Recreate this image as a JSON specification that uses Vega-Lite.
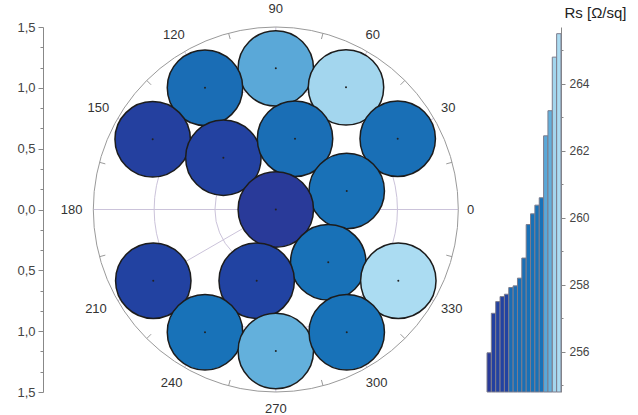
{
  "$schema": "https://vega.github.io/schema/vega-lite/v6.json",
  "autosize": "none",
  "width": 518,
  "height": 365,
  "padding": {"left": 43, "top": 27, "right": 77, "bottom": 23},
  "background": "white",
  "config": {"view": {"stroke": null}, "font": "Liberation Sans"},
  "datasets": {
    "gridInner": [{"x": 0, "y": 0, "r": 0.5}, {"x": 0, "y": 0, "r": 1.0}],
    "gridOuter": [{"x": 0, "y": 0, "r": 1.5}],
    "spokes": [
      {"x": -1.5, "y": 0, "x2": 1.5, "y2": 0},
      {"x": -1.299, "y": -0.75, "x2": 1.299, "y2": 0.75},
      {"x": -0.75, "y": -1.299, "x2": 0.75, "y2": 1.299},
      {"x": 0, "y": -1.5, "x2": 0, "y2": 1.5},
      {"x": 0.75, "y": -1.299, "x2": -0.75, "y2": 1.299},
      {"x": 1.299, "y": -0.75, "x2": -1.299, "y2": 0.75}
    ],
    "rimTicks": [
      {"x": 1.449, "y": 0.388, "x2": 1.401, "y2": 0.375},
      {"x": 1.061, "y": 1.061, "x2": 1.025, "y2": 1.025},
      {"x": 0.388, "y": 1.449, "x2": 0.375, "y2": 1.401},
      {"x": -0.388, "y": 1.449, "x2": -0.375, "y2": 1.401},
      {"x": -1.061, "y": 1.061, "x2": -1.025, "y2": 1.025},
      {"x": -1.449, "y": 0.388, "x2": -1.401, "y2": 0.375},
      {"x": -1.449, "y": -0.388, "x2": -1.401, "y2": -0.375},
      {"x": -1.061, "y": -1.061, "x2": -1.025, "y2": -1.025},
      {"x": -0.388, "y": -1.449, "x2": -0.375, "y2": -1.401},
      {"x": 0.388, "y": -1.449, "x2": 0.375, "y2": -1.401},
      {"x": 1.061, "y": -1.061, "x2": 1.025, "y2": -1.025},
      {"x": 1.449, "y": -0.388, "x2": 1.401, "y2": -0.375}
    ],
    "angles": [
      {"x": 1.602, "y": 0, "t": "0"},
      {"x": 1.418, "y": 0.832, "t": "30"},
      {"x": 0.796, "y": 1.434, "t": "60"},
      {"x": 0, "y": 1.652, "t": "90"},
      {"x": -0.837, "y": 1.434, "t": "120"},
      {"x": -1.459, "y": 0.832, "t": "150"},
      {"x": -1.678, "y": 0, "t": "180"},
      {"x": -1.478, "y": -0.818, "t": "210"},
      {"x": -0.856, "y": -1.428, "t": "240"},
      {"x": 0, "y": -1.642, "t": "270"},
      {"x": 0.829, "y": -1.428, "t": "300"},
      {"x": 1.446, "y": -0.818, "t": "330"}
    ],
    "sites": [
      {"x": 0, "y": 1.16, "r": 0.31, "rs": 262.45},
      {"x": -0.582, "y": 1.001, "r": 0.31, "rs": 257.97},
      {"x": 0.577, "y": 1.004, "r": 0.31, "rs": 264.8},
      {"x": -1.012, "y": 0.577, "r": 0.31, "rs": 257.15},
      {"x": -0.431, "y": 0.426, "r": 0.31, "rs": 257.5},
      {"x": 0.158, "y": 0.582, "r": 0.31, "rs": 258.2},
      {"x": 1.002, "y": 0.582, "r": 0.31, "rs": 258.8},
      {"x": 0.583, "y": 0.152, "r": 0.31, "rs": 259.8},
      {"x": 0, "y": 0, "r": 0.31, "rs": 255.97},
      {"x": 0.431, "y": -0.434, "r": 0.31, "rs": 260.12},
      {"x": 1.007, "y": -0.585, "r": 0.31, "rs": 265.5},
      {"x": -1.007, "y": -0.585, "r": 0.31, "rs": 257.65},
      {"x": -0.157, "y": -0.585, "r": 0.31, "rs": 257.72},
      {"x": -0.582, "y": -1.009, "r": 0.31, "rs": 260.38},
      {"x": 0, "y": -1.163, "r": 0.31, "rs": 263.2},
      {"x": 0.583, "y": -1.009, "r": 0.31, "rs": 260.6}
    ],
    "bars": [
      {"i": 1, "rs": 255.97}, {"i": 2, "rs": 257.15}, {"i": 3, "rs": 257.5},
      {"i": 4, "rs": 257.65}, {"i": 5, "rs": 257.72}, {"i": 6, "rs": 257.92},
      {"i": 7, "rs": 257.97}, {"i": 8, "rs": 258.2}, {"i": 9, "rs": 258.8},
      {"i": 10, "rs": 259.8}, {"i": 11, "rs": 260.12}, {"i": 12, "rs": 260.38},
      {"i": 13, "rs": 260.6}, {"i": 14, "rs": 262.45}, {"i": 15, "rs": 263.2},
      {"i": 16, "rs": 264.8}, {"i": 17, "rs": 265.5}
    ]
  },
  "layer": [
    {
      "encoding": {
        "x": {"field": "x", "type": "quantitative", "scale": {"domain": [-1.9134, 2.3441], "nice": false, "zero": false}, "axis": null},
        "y": {"field": "y", "type": "quantitative", "scale": {"domain": [-1.5, 1.5], "nice": false, "zero": false},
          "axis": {
            "values": [-1.5, -1.3333, -1.1667, -1, -0.8333, -0.6667, -0.5, -0.3333, -0.1667, 0, 0.1667, 0.3333, 0.5, 0.6667, 0.8333, 1, 1.1667, 1.3333, 1.5],
            "labelExpr": "abs(datum.value*2 - round(datum.value*2)) < 0.01 ? replace(format(abs(datum.value),'.1f'),'.',',') : ''",
            "tickSize": {"condition": {"test": "abs(datum.value*2 - round(datum.value*2)) < 0.01", "value": 5}, "value": 3},
            "labelOverlap": false, "labelBound": false,
            "grid": false, "title": null, "labelFontSize": 13, "labelColor": "#444", "domainColor": "#888", "tickColor": "#888", "labelPadding": 3}}
      },
      "layer": [
        {
          "data": {"name": "gridInner"},
          "mark": {"type": "point", "filled": false, "color": "#cbc3da", "strokeWidth": 1, "opacity": 1},
          "encoding": {"size": {"field": "r", "type": "quantitative", "scale": {"type": "pow", "exponent": 2, "domain": [0, 1.5], "range": [0, 133225]}, "legend": null}}
        },
        {
          "data": {"name": "spokes"},
          "mark": {"type": "rule", "color": "#cbc3da", "strokeWidth": 1},
          "encoding": {"x2": {"field": "x2"}, "y2": {"field": "y2"}}
        },
        {
          "data": {"name": "gridOuter"},
          "mark": {"type": "point", "filled": false, "color": "#9a9a9a", "strokeWidth": 1, "opacity": 1},
          "encoding": {"size": {"field": "r", "type": "quantitative", "scale": {"type": "pow", "exponent": 2, "domain": [0, 1.5], "range": [0, 133225]}, "legend": null}}
        },
        {
          "data": {"name": "rimTicks"},
          "mark": {"type": "rule", "color": "#9a9a9a", "strokeWidth": 1},
          "encoding": {"x2": {"field": "x2"}, "y2": {"field": "y2"}}
        },
        {
          "data": {"name": "angles"},
          "mark": {"type": "text", "fontSize": 13, "color": "#333", "align": "center", "baseline": "middle"},
          "encoding": {"text": {"field": "t"}}
        },
        {
          "data": {"name": "sites"},
          "mark": {"type": "point", "filled": true, "stroke": "#1c1c1c", "strokeWidth": 1.5, "opacity": 1, "shape": "circle"},
          "encoding": {
            "size": {"field": "r", "type": "quantitative", "scale": {"type": "pow", "exponent": 2, "domain": [0, 1.5], "range": [0, 133225]}, "legend": null},
            "color": {"field": "rs", "type": "quantitative", "legend": null,
              "scale": {"domain": [255.97, 257.8, 257.9, 260.6, 262.45, 263.2, 264.8, 265.5],
                "range": ["#293a99", "#2143a2", "#1a6db5", "#1872b8", "#5aa8d8", "#63b0dc", "#a3d6ee", "#abdcf2"]}}
          }
        },
        {
          "data": {"name": "sites"},
          "mark": {"type": "point", "filled": true, "color": "#222", "size": 4, "opacity": 1}
        }
      ]
    },
    {
      "data": {"name": "bars"},
      "mark": {"type": "bar", "stroke": "#7c7c8c", "strokeWidth": 1},
      "encoding": {
        "x": {"field": "i", "type": "ordinal", "scale": {"range": [444, 518], "paddingInner": 0, "paddingOuter": 0}, "axis": null},
        "y": {"field": "rs", "type": "quantitative", "scale": {"domain": [254.8, 265.7], "nice": false, "zero": false},
          "axis": {"orient": "right", "values": [255, 256, 257, 258, 259, 260, 261, 262, 263, 264, 265],
            "labelExpr": "datum.value % 2 == 0 ? datum.label : ''",
            "tickSize": {"condition": {"test": "datum.value % 2 == 0", "value": 4}, "value": 2},
            "labelOverlap": false, "labelBound": false,
            "title": "Rs [Ω/sq]", "titleAngle": 0, "titleX": 34, "titleY": -15, "titleAlign": "center", "titleBaseline": "middle", "titleFontSize": 15, "titleFontWeight": "normal", "titleColor": "#222", "labelFontSize": 12, "labelColor": "#444", "grid": false, "domainColor": "#888", "tickColor": "#888", "labelPadding": 4}},
        "y2": {"datum": 254.8},
        "color": {"field": "rs", "type": "quantitative", "legend": null}
      }
    }
  ],
  "resolve": {"scale": {"x": "independent", "y": "independent"}, "axis": {"y": "independent"}}
}
